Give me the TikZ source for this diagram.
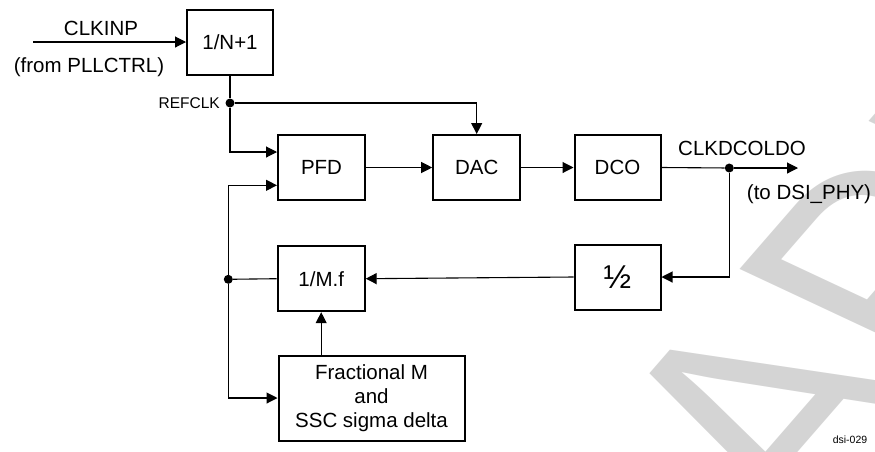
\documentclass[tikz,border=0pt]{standalone}
\usepackage{fontspec}
\setmainfont{Liberation Sans}
\usetikzlibrary{arrows.meta,calc}
\definecolor{wm}{RGB}{212,212,212}
\begin{document}
\begin{tikzpicture}[x=1pt,y=-1pt,
  blk/.style={draw,line width=2pt,minimum width=86pt,minimum height=65pt,inner sep=0pt,font=\fontsize{20.5}{24}\selectfont},
  arr/.style={line width=1.1pt,-{Triangle[length=11pt,width=11pt]}},
  wire/.style={line width=1.1pt},
  lbl/.style={font=\fontsize{20.5}{24}\selectfont,inner sep=0pt},
  dot/.style={circle,fill,inner sep=0pt,minimum size=9pt}]
\useasboundingbox (0,0) rectangle (875,451);
\begin{scope}
\clip (0,0) rectangle (875,451);
\node[text=wm, cm={1.937,2.228,-3.16,1.48,(0,0)}, anchor=base west, inner sep=0pt, font=\fontsize{100}{100}\selectfont] (wmark) at (812,539) {APPROVED};
\end{scope}
% blocks
\node[blk] (ndiv) at (230,42) {1/N+1};
\node[blk,minimum width=87pt] (pfd) at (321.5,167.5) {PFD};
\node[blk,minimum width=87pt] (dac) at (476.7,167.5) {DAC};
\node[blk] (dco) at (617.5,167.5) {DCO};
\node[blk,font=\fontsize{33}{36}\selectfont] (half) at (617.5,277) {½};
\node[blk,minimum width=87pt] (mf) at (321.2,278.7) {1/M.f};
\node[blk,minimum width=186pt,minimum height=85pt,align=center,font=\fontsize{20.5}{23.7}\selectfont] (frac) at (371.5,398) {Fractional M\\and\\SSC sigma delta};
% junctions
\node[dot] (refdot) at (230,103) {};
\node[dot] (outdot) at (729.3,168) {};
\node[dot] (fbdot) at (228.3,279.3) {};
\coordinate (cin) at (33,42);
\coordinate (cout) at (798,168);
% labels
\node[lbl,anchor=base] (lclkinp) at (101,35.7) {CLKINP};
\node[lbl,anchor=base] (lfrom) at (89,72.7) {(from PLLCTRL)};
\node[lbl,anchor=base east,font=\fontsize{15.5}{18}\selectfont] (lref) at (220,108) {REFCLK};
\node[lbl,anchor=base] (lclkd) at (742,155) {CLKDCOLDO};
\node[lbl,anchor=base] (lto) at (809,199) {(to DSI\_PHY)};
\node[lbl,anchor=base,font=\fontsize{10.5}{12}\selectfont] (lid) at (850,443) {dsi-029};
% connectors
\draw[arr] (cin) -- (ndiv.west);
\draw[wire] (ndiv.south) -- (refdot);
\draw[arr] (refdot) |- ($(pfd.west)+(0,-15.5)$);
\draw[arr] (refdot) -| (dac.north);
\draw[arr] (pfd.east) -- (dac.west);
\draw[arr] (dac.east) -- (dco.west);
\draw[wire] (dco.east) -- (outdot);
\draw[arr] (outdot) -- (cout);
\draw[arr] (outdot) |- (half.east);
\draw[arr] (half.west) -- (mf.east);
\draw[wire] (mf.west) -- (fbdot);
\draw[arr] (fbdot) |- ($(pfd.west)+(0,17.8)$);
\draw[arr] (fbdot) |- (frac.west);
\draw[arr] (mf.south |- frac.north) -- (mf.south);
\end{tikzpicture}
\end{document}
